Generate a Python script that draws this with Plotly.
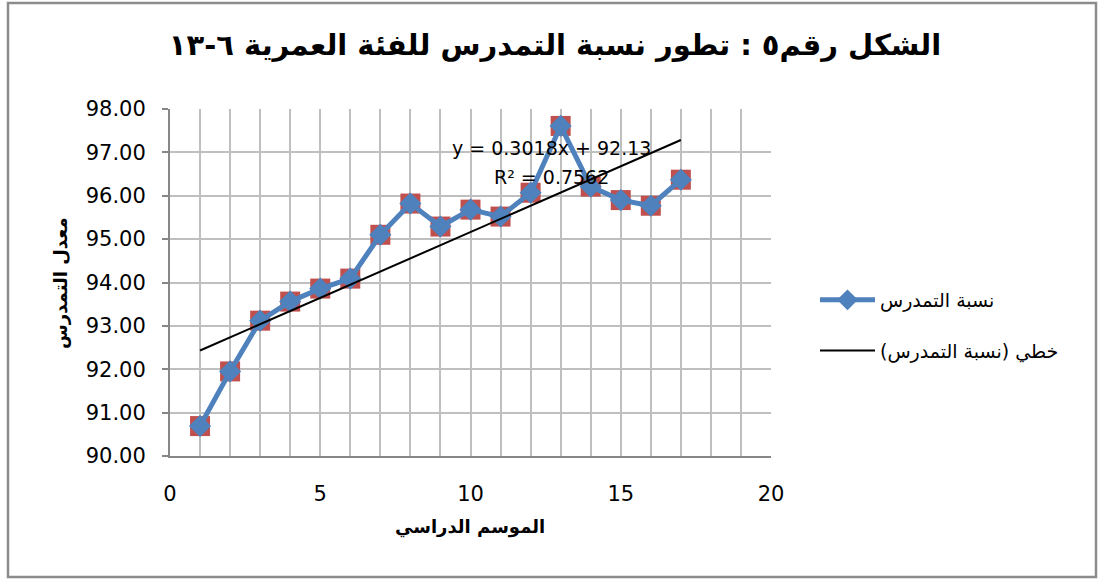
import numpy as np
import plotly.graph_objects as go

# Data
seasons = list(range(1, 18))
rates = [90.69, 91.95, 93.12, 93.56, 93.86, 94.09, 95.10, 95.82, 95.29,
         95.68, 95.52, 96.07, 97.61, 96.21, 95.90, 95.77, 96.37]
series_name = "نسبة التمدرس"
trend_name = "خطي (نسبة التمدرس)\u200F"
title_text = "الشكل رقم٥ : تطور نسبة التمدرس للفئة العمرية ٦-١٣"
x_title = "الموسم الدراسي"
y_title = "معدل التمدرس"
eq_text = "y = 0.3018x + 92.13"
r2_text = "R² = 0.7562"

slope, intercept = np.polyfit(seasons, rates, 1)
trend_x = [seasons[0], seasons[-1]]
trend_y = [slope * v + intercept for v in trend_x]

BLUE = "#4F81BD"
RED = "#C0504D"
FONT = "DejaVu Sans"

fig = go.Figure()
fig.add_trace(go.Scatter(
    x=seasons, y=rates, mode="markers", showlegend=False, hoverinfo="skip",
    marker=dict(symbol="square", size=20, color=RED)))
fig.add_trace(go.Scatter(
    x=seasons, y=rates, mode="lines+markers", name=series_name, legendgroup="a",
    line=dict(color=BLUE, width=5),
    marker=dict(symbol="diamond", size=17, color=BLUE)))
fig.add_trace(go.Scatter(
    x=trend_x, y=trend_y, mode="lines", name=trend_name, legendgroup="b",
    line=dict(color="black", width=2)))

L, R, T, B = 170, 331, 109, 123
W, H = 1102, 579
pw, ph = W - L - R, H - T - B

def px_x(p):
    return (p - L) / pw

def px_y(p):
    return (H - B - p) / ph

fig.update_layout(
    width=W, height=H,
    margin=dict(l=L, r=R, t=T, b=B),
    paper_bgcolor="white", plot_bgcolor="white",
    font=dict(family=FONT, color="black"),
    title=dict(text=title_text, x=555 / W, xref="container", xanchor="center",
               y=1 - 45 / H, yref="container", yanchor="middle",
               font=dict(family=FONT, size=29, color="black", weight="bold")),
    xaxis=dict(range=[0, 20], dtick=5, tick0=0, showgrid=True, gridcolor="#BFBFBF", gridwidth=1.5,
               minor=dict(dtick=1, showgrid=True, gridcolor="#BFBFBF", gridwidth=1.5),
               showline=True, linecolor="#878787", linewidth=2, zeroline=False,
               ticks="", tickfont=dict(size=21, family=FONT), ticklabelstandoff=18),
    yaxis=dict(range=[90, 98], dtick=1, tickformat=".2f", showgrid=True, gridcolor="#BFBFBF", gridwidth=1.5,
               showline=True, linecolor="#878787", linewidth=2, zeroline=False,
               ticks="outside", ticklen=6, tickcolor="#878787", tickwidth=1.5,
               tickfont=dict(size=21, family=FONT), ticklabelstandoff=12),
    legend=dict(x=px_x(815), y=px_y(281), xanchor="left", yanchor="top",
                font=dict(size=19, family=FONT), itemwidth=55, tracegroupgap=23,
                bgcolor="rgba(0,0,0,0)"),
    showlegend=True,
)

fig.add_annotation(x=px_x(470), y=px_y(527), xref="paper", yref="paper", showarrow=False,
                   xanchor="center", yanchor="middle",
                   text=x_title, font=dict(size=18, family=FONT, weight="bold"))
fig.add_annotation(x=px_x(60), y=px_y(283), xref="paper", yref="paper", showarrow=False,
                   xanchor="center", yanchor="middle",
                   text=y_title, textangle=-90, font=dict(size=18, family=FONT, weight="bold"))
fig.add_annotation(x=12.71, y=97.10, xref="x", yref="y", showarrow=False,
                   text=eq_text, font=dict(size=19, family=FONT))
fig.add_annotation(x=12.71, y=96.44, xref="x", yref="y", showarrow=False,
                   text=r2_text, font=dict(size=19, family=FONT))

fig.add_shape(type="rect", xref="paper", yref="paper",
              x0=px_x(8), x1=px_x(1096), y0=px_y(577), y1=px_y(3),
              line=dict(color="#8C8C8C", width=2.5), fillcolor="rgba(0,0,0,0)", layer="below")

fig.write_html("out.html", config={"displayModeBar": False},
               post_script="document.body.style.margin='0px';")
